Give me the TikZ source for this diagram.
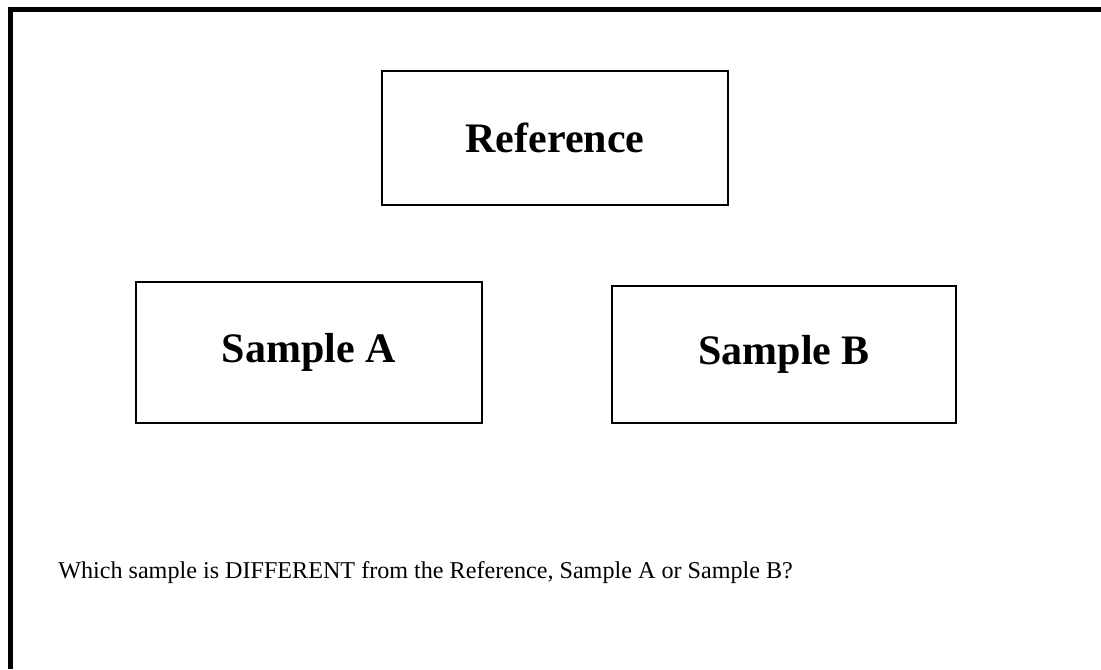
\documentclass[tikz,border=0pt]{standalone}
\usepackage{fontspec}
\setmainfont{Liberation Serif}
\begin{document}
\begin{tikzpicture}[x=0.75pt,y=-0.75pt,
  boxnode/.style={draw,line width=1.5pt,inner sep=0pt,font=\fontsize{31.5}{36}\selectfont\bfseries},
  question/.style={font=\fontsize{18.1}{22}\selectfont,inner sep=0pt,anchor=base west}]
\useasboundingbox (0,0) rectangle (1101,669);
\draw[line width=3.4pt] (10.7,669) -- (10.7,9.5) -- (1101,9.5);
\node[boxnode,minimum width=345.5*0.75pt,minimum height=134.3*0.75pt] (ref) at (555,137.8) {Reference};
\node[boxnode,minimum width=346*0.75pt,minimum height=141*0.75pt] (sa) at (308.7,352.8) {Sample A};
\node[boxnode,minimum width=343.7*0.75pt,minimum height=137.3*0.75pt] (sb) at (784.1,354.7) {Sample B};
\node[question] (q) at (58,578) {Which sample is DIFFERENT from the Reference, Sample A or Sample B?};
\end{tikzpicture}
\end{document}
